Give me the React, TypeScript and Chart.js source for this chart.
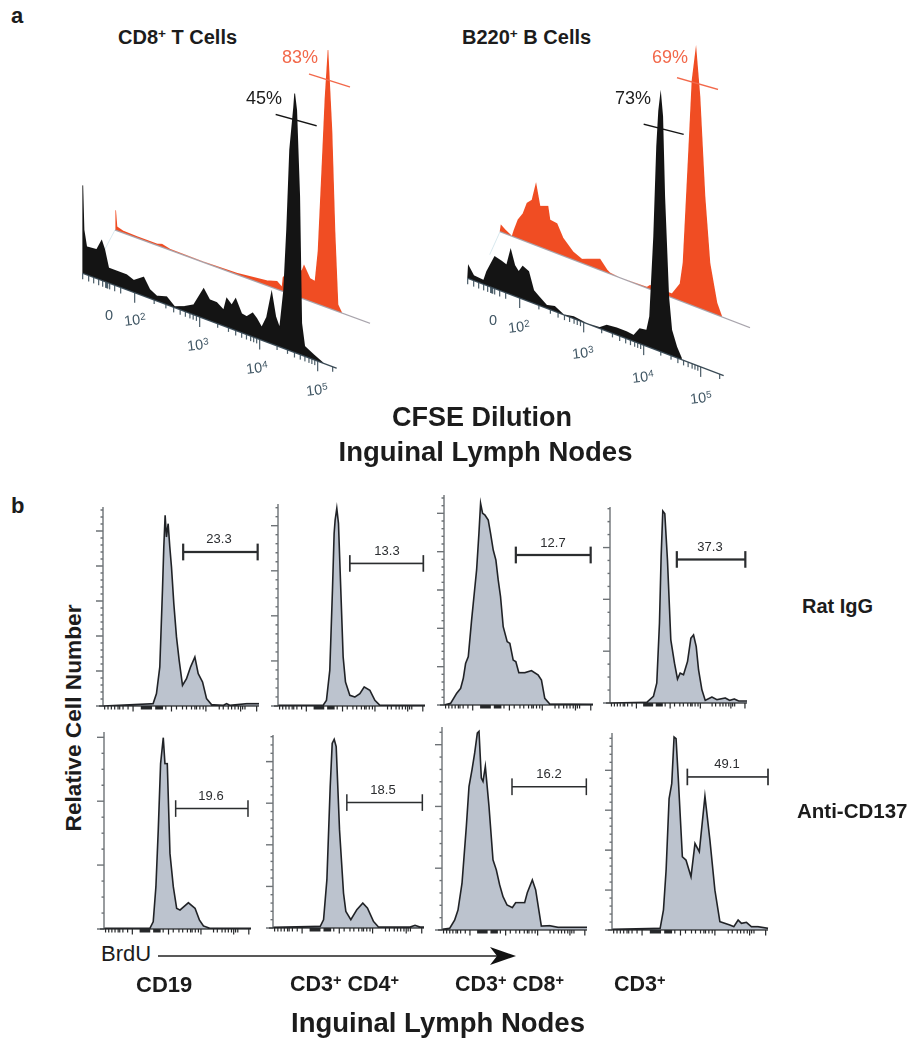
import React, { useEffect, useRef } from "react";
import { Chart, registerables } from "chart.js";

Chart.register(...registerables);

// ---------- Panel a: CFSE dilution, channel along the slanted axis / event count
const cd8BlackX = [0, 0.1, 1.3, 4, 14, 19, 22, 26, 34, 44, 51, 61, 67, 74, 84, 92, 102, 111, 121, 127, 134, 141, 144, 149, 153, 159, 164, 170, 174, 179, 184, 189, 193, 197, 201, 204, 207, 211, 212, 214, 217, 219, 222, 231, 241];
const cd8BlackY = [0, 88, 44, 28, 29, 40, 32, 15, 15, 15, 12, 19, 9, 5, 8, 1, 5, 10, 30, 21, 21, 16, 29, 24, 32, 19, 18, 24, 20, 13, 25, 52, 29, 19, 58, 120, 201, 245, 259, 243, 158, 32, 10, 5, 0];
const cd8RedX = [0, 0.7, 2, 8, 22, 42, 47, 55, 88, 105, 122, 135, 152, 162, 167, 168, 175, 182, 187, 189, 195, 200, 203, 207, 210, 213, 217, 220, 223, 227];
const cd8RedY = [0, 20, 4, 2, 1.5, 1.5, 3, 1, 0.5, 1, 1.5, 3, 5, 8, 4, 14, 25, 25, 28, 34, 23, 22, 53, 141, 209, 258, 178, 79, 7, 0];
const b220BlackX = [0, 0.7, 6, 16, 19, 27, 34, 39, 43, 47, 51, 55, 61, 66, 71, 79, 87, 96, 106, 119, 132, 139, 149, 159, 166, 172, 179, 182, 186, 189, 191, 193, 195, 197, 201, 204, 209, 214];
const b220BlackY = [0, 13, 5, 4, 14, 32, 30, 28, 45, 31, 26, 33, 30, 13, 9, 3, 5, 0, 2, 0, 1, 6, 7, 7, 6, 15, 16, 31, 112, 204, 240, 258, 236, 157, 58, 26, 11, 1];
const b220RedX = [0, 1, 5, 12, 14, 18, 23, 27, 32, 36, 40, 43, 48, 50, 57, 63, 73, 82, 87, 100, 107, 110, 120, 147, 150, 172, 180, 183, 188, 192, 196, 200, 205, 210, 217, 222];
const b220RedY = [0, 7, 4, 0, 7, 19, 27, 39, 44, 62, 41, 42, 44, 31, 30, 18, 8, 4, 6, 11, 3, 1, 0, 1, 4, 4, 17, 39, 141, 225, 259, 212, 114, 49, 12, 0];

const cd8Decades = [52, 117, 177, 235];
const b220Decades = [52, 116, 176, 233];
const lowChannelTicks = [0, 6, 11, 16, 20, 23, 24, 25, 27, 32, 38];
const logFractions = [0.3, 0.48, 0.6, 0.7, 0.78, 0.85, 0.9, 0.95];

const cd8TickLabels = [
  { t: "0", x: 109, y: 315 }, { t: "2", x: 135, y: 320 }, { t: "3", x: 198, y: 345 }, { t: "4", x: 257, y: 368 }, { t: "5", x: 317, y: 390 },
];
const b220TickLabels = [
  { t: "0", x: 493, y: 320 }, { t: "2", x: 519, y: 327 }, { t: "3", x: 583, y: 353 }, { t: "4", x: 643, y: 377 }, { t: "5", x: 701, y: 398 },
];

// ---------- Panel b: BrdU histograms
const ratCd19X = [0, 150, 160, 170, 178, 182, 186, 190, 195, 200, 205, 212, 220, 228, 238, 250, 262, 275, 285, 298, 310, 325, 360, 370, 380, 430, 467];
const ratCd19Y = [0, 7, 37, 117, 347, 477, 572, 507, 547, 477, 417, 307, 207, 137, 62, 82, 117, 147, 97, 72, 22, 4, 2, 7, 2, 7, 7];
const ratCd4X = [0, 135, 145, 155, 163, 168, 171, 176, 181, 188, 195, 202, 215, 230, 245, 258, 275, 290, 305, 440];
const ratCd4Y = [2, 2, 17, 107, 347, 517, 557, 592, 547, 347, 147, 72, 32, 27, 37, 57, 47, 17, 2, 2];
const ratCd8X = [0, 20, 38, 50, 58, 65, 73, 83, 91, 98, 105, 110, 116, 123, 133, 140, 148, 156, 163, 170, 178, 190, 198, 208, 216, 225, 243, 263, 283, 293, 303, 318, 448];
const ratCd8Y = [0, 5, 35, 50, 80, 125, 145, 255, 335, 405, 515, 605, 575, 570, 555, 515, 465, 435, 375, 325, 235, 190, 185, 135, 130, 97, 97, 103, 90, 75, 20, 3, 2];
const ratCd3X = [0, 110, 130, 140, 148, 153, 158, 164, 172, 182, 193, 202, 210, 220, 232, 242, 250, 258, 265, 275, 285, 305, 320, 345, 358, 372, 385, 410];
const ratCd3Y = [0, 2, 20, 60, 240, 440, 578, 570, 430, 190, 120, 72, 90, 85, 125, 195, 205, 170, 100, 40, 8, 18, 10, 15, 8, 12, 6, 6];
const antiCd19X = [0, 137, 147, 155, 162, 169, 177, 182, 189, 197, 207, 217, 227, 252, 272, 285, 297, 317, 439];
const antiCd19Y = [2, 2, 22, 127, 297, 497, 575, 497, 497, 227, 127, 62, 57, 79, 62, 27, 9, 2, 2];
const antiCd4X = [0, 142, 152, 162, 172, 178, 184, 190, 200, 212, 219, 234, 252, 270, 284, 302, 317, 412, 427, 442, 454];
const antiCd4Y = [2, 5, 25, 145, 425, 555, 567, 545, 295, 105, 50, 25, 55, 75, 60, 20, 3, 3, 8, 3, 3];
const antiCd8X = [0, 23, 38, 48, 60, 73, 81, 90, 98, 106, 111, 118, 123, 130, 141, 153, 163, 173, 183, 195, 211, 221, 248, 256, 271, 281, 298, 323, 348, 435];
const antiCd8Y = [2, 5, 30, 60, 140, 310, 430, 480, 530, 590, 595, 455, 445, 490, 370, 210, 180, 135, 100, 75, 67, 82, 82, 112, 150, 120, 12, 13, 8, 8];
const antiCd3X = [0, 145, 155, 163, 172, 180, 187, 193, 200, 212, 223, 238, 250, 263, 280, 295, 310, 325, 355, 367, 380, 390, 405, 420, 440, 470];
const antiCd3Y = [2, 5, 60, 180, 395, 440, 580, 575, 450, 220, 210, 160, 260, 235, 402, 270, 120, 25, 15, 10, 30, 20, 23, 10, 10, 5];

const xTickMarks = [5, 15, 25, 35, 45, 50, 60, 75, 90, 115, 118, 121, 124, 127, 130, 133, 136, 139, 142, 145, 158, 161, 164, 167, 170, 173, 176, 178, 188, 205, 220, 238, 250, 265, 275, 280, 290, 300, 308, 348, 360, 375, 385, 395, 405, 412, 418, 425, 460];
const xLongTicks = [90, 205, 308, 412, 460];
const xTickSpan = 467;

const histograms = [
  { label: "23.3", xs: ratCd19X, ys: ratCd19Y, left: 103, top: 507, right: 259, bottom: 706, xMax: 467, yMax: 597, step: 21, sub: 5, gate: [240, 463, 462], textX: 219, textY: 538, thick: 2.2 },
  { label: "13.3", xs: ratCd4X, ys: ratCd4Y, left: 278, top: 504, right: 425, bottom: 706, xMax: 440, yMax: 605, step: 27, sub: 5, gate: [215, 435, 427], textX: 387, textY: 550, thick: 1.7 },
  { label: "12.7", xs: ratCd8X, ys: ratCd8Y, left: 444, top: 495, right: 593, bottom: 705, xMax: 448, yMax: 630, step: 23, sub: 5, gate: [216, 441, 450], textX: 553, textY: 542, thick: 2.2 },
  { label: "37.3", xs: ratCd3X, ys: ratCd3Y, left: 610, top: 507, right: 747, bottom: 703, xMax: 410, yMax: 590, step: 39, sub: 4, gate: [200, 405, 432], textX: 710, textY: 546, thick: 2.2 },
  { label: "19.6", xs: antiCd19X, ys: antiCd19Y, left: 104, top: 732, right: 251, bottom: 929, xMax: 439, yMax: 592, step: 48, sub: 4, gate: [214, 430, 362], textX: 211, textY: 795, thick: 1.5 },
  { label: "18.5", xs: antiCd4X, ys: antiCd4Y, left: 273, top: 735, right: 424, bottom: 928, xMax: 454, yMax: 580, step: 25, sub: 5, gate: [222, 449, 377], textX: 383, textY: 789, thick: 1.5 },
  { label: "16.2", xs: antiCd8X, ys: antiCd8Y, left: 442, top: 727, right: 587, bottom: 930, xMax: 435, yMax: 608, step: 37, sub: 5, gate: [210, 433, 429], textX: 549, textY: 773, thick: 1.5 },
  { label: "49.1", xs: antiCd3X, ys: antiCd3Y, left: 612, top: 733, right: 768, bottom: 930, xMax: 470, yMax: 592, step: 24, sub: 5, gate: [227, 470, 460], textX: 727, textY: 763, thick: 1.7 },
];

const FONT = "'Liberation Sans', Arial, sans-serif";
const A_W = 320;
const A_H = 390;
const NONE = { x: NaN, y: NaN };

function zip(xs: number[], ys: number[]) {
  return xs.map((x, i) => ({ x, y: ys[i] }));
}

type Lane = { ox: number; oy: number; slope: number };

function onLane(lane: Lane, ch: number, count: number) {
  return { x: lane.ox + ch, y: lane.oy - lane.slope * ch + count };
}

function PanelA(props: {
  left: number;
  black: [number[], number[]];
  red: [number[], number[]];
  blackLane: Lane;
  redLane: Lane;
  axisEnd: number;
  redEnd: number;
  decades: number[];
  blackGate: number[];
  redGate: number[];
}) {
  const ref = useRef<HTMLCanvasElement>(null);
  useEffect(() => {
    const { black, red, blackLane, redLane, axisEnd, redEnd, decades, blackGate, redGate } = props;
    const tickPts: any[] = [];
    const addTick = (ch: number, len: number) => {
      const p = onLane(blackLane, ch, 0);
      tickPts.push(p, { x: p.x, y: p.y - len }, NONE);
    };
    lowChannelTicks.forEach((c) => addTick(c, 6));
    decades.forEach((d, i) => {
      addTick(d, 10);
      if (i > 0) {
        const w = d - decades[i - 1];
        logFractions.forEach((f) => addTick(decades[i - 1] + f * w, f > 0.55 ? 5 : 4));
      }
    });
    addTick(axisEnd - 4, 5);
    const line = (data: any[], color: string, width: number, extra: any = {}) => ({
      data, borderColor: color, borderWidth: width, pointRadius: 0, tension: 0, fill: false, ...extra,
    });
    const chart = new Chart(ref.current!, {
      type: "line",
      data: {
        datasets: [
          line(red[0].map((c) => onLane(redLane, c, 0)), "rgba(0,0,0,0)", 0, { order: 9 }),
          line(red[0].map((c, i) => onLane(redLane, c, red[1][i])), "#f04d23", 0.6, { fill: 0, backgroundColor: "#f04d23", order: 8 }),
          line([onLane(redLane, 0, 0), onLane(redLane, redEnd, 0)], "#a8a4ac", 1.2, { order: 7 }),
          line([onLane(redLane, 0, 0), { x: blackLane.ox + 22, y: blackLane.oy - blackLane.slope * 22 + 32 }], "#d4e6ec", 0.8, { order: 7 }),
          line(black[0].map((c) => onLane(blackLane, c, 0)), "rgba(0,0,0,0)", 0, { order: 6 }),
          line(black[0].map((c, i) => onLane(blackLane, c, black[1][i])), "#141414", 0.8, { fill: 4, backgroundColor: "#141414", order: 5 }),
          line([onLane(blackLane, 0, 0), onLane(blackLane, axisEnd, 0)], "#3a4a55", 1.3, { order: 4 }),
          line(tickPts, "#4b5d68", 1.2, { order: 4 }),
          line([onLane(redLane, redGate[0], redGate[1]), onLane(redLane, redGate[2], redGate[3])], "#f2684a", 1.4, { order: 3 }),
          line([onLane(blackLane, blackGate[0], blackGate[1]), onLane(blackLane, blackGate[2], blackGate[3])], "#141414", 1.4, { order: 2 }),
        ] as any,
      },
      options: {
        animation: false,
        responsive: false,
        devicePixelRatio: 2,
        layout: { padding: 0 },
        plugins: { legend: { display: false }, tooltip: { enabled: false } },
        scales: {
          x: { type: "linear", display: false, min: 0, max: A_W },
          y: { type: "linear", display: false, min: 0, max: A_H },
        },
      } as any,
    });
    return () => chart.destroy();
  }, []);
  return <canvas ref={ref} width={A_W} height={A_H} style={{ position: "absolute", left: props.left, top: 30, width: A_W, height: A_H }} />;
}

function Histogram({ h }: { h: (typeof histograms)[number] }) {
  const ref = useRef<HTMLCanvasElement>(null);
  const padL = 12;
  const padB = 12;
  const padT = 3;
  const padR = 4;
  const w = h.right - h.left + padL + padR;
  const ht = h.bottom - h.top + padT + padB;
  useEffect(() => {
    const [g1, g2, gy] = h.gate;
    const cap = 25;
    const gatePts = [
      { x: g1, y: gy - cap }, { x: g1, y: gy + cap }, NONE,
      { x: g1, y: gy }, { x: g2, y: gy }, NONE,
      { x: g2, y: gy - cap }, { x: g2, y: gy + cap },
    ];
    const axisPlugin = {
      id: "flowAxes",
      afterDatasetsDraw(chart: any) {
        const { ctx, scales } = chart;
        const x = scales.x;
        const y = scales.y;
        const axisY = y.getPixelForValue(0);
        const axisX = x.getPixelForValue(0);
        ctx.save();
        ctx.strokeStyle = "#6d7276";
        ctx.lineWidth = 1.4;
        ctx.beginPath();
        ctx.moveTo(axisX, y.getPixelForValue(h.yMax));
        ctx.lineTo(axisX, axisY);
        y.ticks.forEach((t: any, i: number) => {
          const py = y.getPixelForValue(t.value);
          ctx.moveTo(axisX, py);
          ctx.lineTo(axisX - (i % h.sub === 0 ? 7 : 2.5), py);
        });
        ctx.stroke();
        ctx.strokeStyle = "#26282a";
        ctx.lineWidth = 1.2;
        ctx.beginPath();
        ctx.moveTo(axisX - 4, axisY);
        ctx.lineTo(x.getPixelForValue(h.xMax), axisY);
        xTickMarks.forEach((m) => {
          const px = x.getPixelForValue((m / xTickSpan) * h.xMax);
          ctx.moveTo(px, axisY);
          ctx.lineTo(px, axisY + (xLongTicks.includes(m) ? 5.5 : 3.5));
        });
        ctx.stroke();
        ctx.restore();
      },
    };
    const chart = new Chart(ref.current!, {
      type: "line",
      data: {
        datasets: [
          {
            data: zip(h.xs, h.ys),
            borderColor: "#202226",
            borderWidth: 1.6,
            backgroundColor: "#bcc3ce",
            fill: "origin",
            pointRadius: 0,
            tension: 0,
            clip: false,
          },
          {
            data: gatePts,
            borderColor: "#2b2d2f",
            borderWidth: h.thick,
            pointRadius: 0,
            fill: false,
            tension: 0,
            clip: false,
          },
        ] as any,
      },
      plugins: [axisPlugin],
      options: {
        animation: false,
        responsive: false,
        devicePixelRatio: 2,
        layout: { padding: { left: padL, right: padR, top: padT, bottom: padB } },
        plugins: { legend: { display: false }, tooltip: { enabled: false } },
        scales: {
          x: { type: "linear", display: false, min: 0, max: h.xMax },
          y: { type: "linear", display: false, min: 0, max: h.yMax, ticks: { stepSize: h.step, includeBounds: false, autoSkip: false } },
        },
      } as any,
    });
    return () => chart.destroy();
  }, []);
  return (
    <>
      <canvas ref={ref} width={w} height={ht} style={{ position: "absolute", left: h.left - padL, top: h.top - padT, width: w, height: ht }} />
      <Txt x={h.textX} y={h.textY} size={13} color="#2b2d30">{h.label}</Txt>
    </>
  );
}

function Txt(props: { x: number; y: number; size: number; bold?: boolean; color?: string; anchor?: "left" | "center"; rotate?: number; children: React.ReactNode }) {
  const { x, y, size, bold, color, anchor = "center", rotate = 0, children } = props;
  const tx = anchor === "center" ? "-50%" : "0";
  return (
    <div
      style={{
        position: "absolute", left: x, top: y, fontFamily: FONT, fontSize: size, fontWeight: bold ? 700 : 400,
        color: color || "#1c1c1c", whiteSpace: "nowrap", lineHeight: 1,
        transform: `translate(${tx}, -50%) rotate(${rotate}deg)`,
      }}
    >
      {children}
    </div>
  );
}

const Sup = ({ children }: { children: React.ReactNode }) => (
  <sup style={{ fontSize: "0.68em", lineHeight: 0, verticalAlign: "baseline", position: "relative", top: "-0.42em" }}>{children}</sup>
);

function TickLabels({ items }: { items: { t: string; x: number; y: number }[] }) {
  return (
    <>
      {items.map((it) => (
        <Txt key={it.t + it.x} x={it.x} y={it.y} size={14.5} color="#3f5563" rotate={it.t === "0" ? 0 : -7}>
          {it.t === "0" ? "0" : <>10<Sup>{it.t}</Sup></>}
        </Txt>
      ))}
    </>
  );
}

export default function App() {
  return (
    <div style={{ position: "absolute", left: 0, top: 0, width: 915, height: 1050, background: "#fff", overflow: "hidden" }}>
      <Txt x={11} y={16} size={22} bold anchor="left">a</Txt>
      <Txt x={11} y={506} size={22} bold anchor="left">b</Txt>
      <Txt x={118} y={37} size={20} bold anchor="left">CD8<Sup>+</Sup> T Cells</Txt>
      <Txt x={462} y={37} size={20} bold anchor="left">B220<Sup>+</Sup> B Cells</Txt>

      <PanelA
        left={70}
        black={[cd8BlackX, cd8BlackY]}
        red={[cd8RedX, cd8RedY]}
        blackLane={{ ox: 12.67, oy: 146.7, slope: 0.374 }}
        redLane={{ ox: 45, oy: 190, slope: 0.366 }}
        axisEnd={254}
        redEnd={255}
        decades={cd8Decades}
        blackGate={[193, 231, 234, 235]}
        redGate={[194, 227, 235, 229]}
      />
      <PanelA
        left={440}
        black={[b220BlackX, b220BlackY]}
        red={[b220RedX, b220RedY]}
        blackLane={{ ox: 27.67, oy: 141.7, slope: 0.38 }}
        redLane={{ ox: 60, oy: 188.3, slope: 0.384 }}
        axisEnd={256}
        redEnd={250}
        decades={b220Decades}
        blackGate={[176, 221, 216, 226]}
        redGate={[177, 222, 218, 226]}
      />
      <Txt x={264} y={98} size={18}>45%</Txt>
      <Txt x={300} y={57} size={18} color="#f2684a">83%</Txt>
      <Txt x={633} y={98} size={18}>73%</Txt>
      <Txt x={670} y={57} size={18} color="#f2684a">69%</Txt>
      <TickLabels items={cd8TickLabels} />
      <TickLabels items={b220TickLabels} />

      <Txt x={482} y={417} size={27} bold>CFSE Dilution</Txt>
      <Txt x={485.5} y={452} size={27.5} bold>Inguinal Lymph Nodes</Txt>

      {histograms.map((h) => <Histogram key={h.label} h={h} />)}

      <Txt x={73} y={718} size={22.7} bold rotate={-90}>Relative Cell Number</Txt>
      <Txt x={802} y={606} size={20} bold anchor="left">Rat IgG</Txt>
      <Txt x={797} y={811} size={20.5} bold anchor="left">Anti-CD137</Txt>

      <Txt x={101} y={954} size={22} anchor="left">BrdU</Txt>
      <svg width={915} height={1050} style={{ position: "absolute", left: 0, top: 0, pointerEvents: "none" }}>
        <line x1={158} y1={956} x2={500} y2={956} stroke="#222" strokeWidth={1.4} />
        <path d="M490 947 L516 956 L490 965 L497 956 Z" fill="#111" />
      </svg>
      <Txt x={136} y={985} size={22} bold anchor="left">CD19</Txt>
      <Txt x={290} y={985} size={21.5} bold anchor="left">CD3<Sup>+</Sup> CD4<Sup>+</Sup></Txt>
      <Txt x={455} y={985} size={21.5} bold anchor="left">CD3<Sup>+</Sup> CD8<Sup>+</Sup></Txt>
      <Txt x={614} y={985} size={21.5} bold anchor="left">CD3<Sup>+</Sup></Txt>
      <Txt x={438} y={1023} size={27.5} bold>Inguinal Lymph Nodes</Txt>
    </div>
  );
}
